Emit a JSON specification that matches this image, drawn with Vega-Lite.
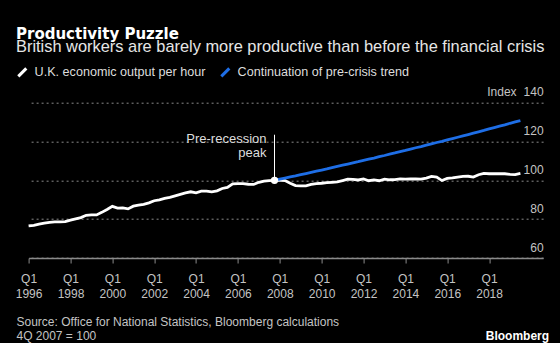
{
  "$schema": "https://vega.github.io/schema/vega-lite/v6.json",
  "autosize": "none",
  "width": 514.5,
  "height": 155.3,
  "padding": {"left": 28.6, "top": 102.7, "right": 16.9, "bottom": 85},
  "background": "#000000",
  "config": {"view": {"stroke": null}, "font": "Liberation Sans"},
  "title": {
    "text": "Productivity Puzzle",
    "anchor": "start",
    "frame": "group",
    "dx": -12.6,
    "font": "DejaVu Sans",
    "fontSize": 15,
    "fontWeight": "bold",
    "color": "#ffffff",
    "offset": -3
  },
  "datasets": {
    "series": [
      {"date": "1996-01-01", "series": "U.K. economic output per hour", "value": 76.5},
      {"date": "1996-04-01", "series": "U.K. economic output per hour", "value": 76.8},
      {"date": "1996-07-01", "series": "U.K. economic output per hour", "value": 77.5},
      {"date": "1996-10-01", "series": "U.K. economic output per hour", "value": 78.0},
      {"date": "1997-01-01", "series": "U.K. economic output per hour", "value": 78.4},
      {"date": "1997-04-01", "series": "U.K. economic output per hour", "value": 78.6},
      {"date": "1997-07-01", "series": "U.K. economic output per hour", "value": 78.6},
      {"date": "1997-10-01", "series": "U.K. economic output per hour", "value": 78.7},
      {"date": "1998-01-01", "series": "U.K. economic output per hour", "value": 79.5},
      {"date": "1998-04-01", "series": "U.K. economic output per hour", "value": 80.2},
      {"date": "1998-07-01", "series": "U.K. economic output per hour", "value": 80.8},
      {"date": "1998-10-01", "series": "U.K. economic output per hour", "value": 82.0},
      {"date": "1999-01-01", "series": "U.K. economic output per hour", "value": 82.2},
      {"date": "1999-04-01", "series": "U.K. economic output per hour", "value": 82.2},
      {"date": "1999-07-01", "series": "U.K. economic output per hour", "value": 83.5},
      {"date": "1999-10-01", "series": "U.K. economic output per hour", "value": 85.0},
      {"date": "2000-01-01", "series": "U.K. economic output per hour", "value": 86.6},
      {"date": "2000-04-01", "series": "U.K. economic output per hour", "value": 85.7},
      {"date": "2000-07-01", "series": "U.K. economic output per hour", "value": 85.8},
      {"date": "2000-10-01", "series": "U.K. economic output per hour", "value": 85.3},
      {"date": "2001-01-01", "series": "U.K. economic output per hour", "value": 86.7},
      {"date": "2001-04-01", "series": "U.K. economic output per hour", "value": 87.2},
      {"date": "2001-07-01", "series": "U.K. economic output per hour", "value": 87.6},
      {"date": "2001-10-01", "series": "U.K. economic output per hour", "value": 88.4},
      {"date": "2002-01-01", "series": "U.K. economic output per hour", "value": 89.5},
      {"date": "2002-04-01", "series": "U.K. economic output per hour", "value": 90.0},
      {"date": "2002-07-01", "series": "U.K. economic output per hour", "value": 90.7},
      {"date": "2002-10-01", "series": "U.K. economic output per hour", "value": 91.2},
      {"date": "2003-01-01", "series": "U.K. economic output per hour", "value": 92.0},
      {"date": "2003-04-01", "series": "U.K. economic output per hour", "value": 92.8},
      {"date": "2003-07-01", "series": "U.K. economic output per hour", "value": 93.5},
      {"date": "2003-10-01", "series": "U.K. economic output per hour", "value": 94.1},
      {"date": "2004-01-01", "series": "U.K. economic output per hour", "value": 93.6},
      {"date": "2004-04-01", "series": "U.K. economic output per hour", "value": 94.4},
      {"date": "2004-07-01", "series": "U.K. economic output per hour", "value": 94.4},
      {"date": "2004-10-01", "series": "U.K. economic output per hour", "value": 94.1},
      {"date": "2005-01-01", "series": "U.K. economic output per hour", "value": 94.6},
      {"date": "2005-04-01", "series": "U.K. economic output per hour", "value": 95.8},
      {"date": "2005-07-01", "series": "U.K. economic output per hour", "value": 96.4},
      {"date": "2005-10-01", "series": "U.K. economic output per hour", "value": 98.2},
      {"date": "2006-01-01", "series": "U.K. economic output per hour", "value": 98.3},
      {"date": "2006-04-01", "series": "U.K. economic output per hour", "value": 98.3},
      {"date": "2006-07-01", "series": "U.K. economic output per hour", "value": 98.0},
      {"date": "2006-10-01", "series": "U.K. economic output per hour", "value": 97.9},
      {"date": "2007-01-01", "series": "U.K. economic output per hour", "value": 99.0},
      {"date": "2007-04-01", "series": "U.K. economic output per hour", "value": 99.6},
      {"date": "2007-07-01", "series": "U.K. economic output per hour", "value": 99.9},
      {"date": "2007-10-01", "series": "U.K. economic output per hour", "value": 100.0},
      {"date": "2008-01-01", "series": "U.K. economic output per hour", "value": 100.1},
      {"date": "2008-04-01", "series": "U.K. economic output per hour", "value": 99.9},
      {"date": "2008-07-01", "series": "U.K. economic output per hour", "value": 98.5},
      {"date": "2008-10-01", "series": "U.K. economic output per hour", "value": 97.3},
      {"date": "2009-01-01", "series": "U.K. economic output per hour", "value": 97.2},
      {"date": "2009-04-01", "series": "U.K. economic output per hour", "value": 97.2},
      {"date": "2009-07-01", "series": "U.K. economic output per hour", "value": 97.9},
      {"date": "2009-10-01", "series": "U.K. economic output per hour", "value": 98.3},
      {"date": "2010-01-01", "series": "U.K. economic output per hour", "value": 98.5},
      {"date": "2010-04-01", "series": "U.K. economic output per hour", "value": 98.8},
      {"date": "2010-07-01", "series": "U.K. economic output per hour", "value": 99.0},
      {"date": "2010-10-01", "series": "U.K. economic output per hour", "value": 99.2},
      {"date": "2011-01-01", "series": "U.K. economic output per hour", "value": 99.9},
      {"date": "2011-04-01", "series": "U.K. economic output per hour", "value": 100.6},
      {"date": "2011-07-01", "series": "U.K. economic output per hour", "value": 100.5},
      {"date": "2011-10-01", "series": "U.K. economic output per hour", "value": 100.2},
      {"date": "2012-01-01", "series": "U.K. economic output per hour", "value": 100.7},
      {"date": "2012-04-01", "series": "U.K. economic output per hour", "value": 99.8},
      {"date": "2012-07-01", "series": "U.K. economic output per hour", "value": 100.2},
      {"date": "2012-10-01", "series": "U.K. economic output per hour", "value": 99.8},
      {"date": "2013-01-01", "series": "U.K. economic output per hour", "value": 100.6},
      {"date": "2013-04-01", "series": "U.K. economic output per hour", "value": 100.3},
      {"date": "2013-07-01", "series": "U.K. economic output per hour", "value": 100.4},
      {"date": "2013-10-01", "series": "U.K. economic output per hour", "value": 100.8},
      {"date": "2014-01-01", "series": "U.K. economic output per hour", "value": 100.6},
      {"date": "2014-04-01", "series": "U.K. economic output per hour", "value": 100.7},
      {"date": "2014-07-01", "series": "U.K. economic output per hour", "value": 100.7},
      {"date": "2014-10-01", "series": "U.K. economic output per hour", "value": 100.6},
      {"date": "2015-01-01", "series": "U.K. economic output per hour", "value": 101.2},
      {"date": "2015-04-01", "series": "U.K. economic output per hour", "value": 102.0},
      {"date": "2015-07-01", "series": "U.K. economic output per hour", "value": 101.7},
      {"date": "2015-10-01", "series": "U.K. economic output per hour", "value": 99.9},
      {"date": "2016-01-01", "series": "U.K. economic output per hour", "value": 101.0},
      {"date": "2016-04-01", "series": "U.K. economic output per hour", "value": 101.3},
      {"date": "2016-07-01", "series": "U.K. economic output per hour", "value": 101.7},
      {"date": "2016-10-01", "series": "U.K. economic output per hour", "value": 102.0},
      {"date": "2017-01-01", "series": "U.K. economic output per hour", "value": 102.1},
      {"date": "2017-04-01", "series": "U.K. economic output per hour", "value": 101.7},
      {"date": "2017-07-01", "series": "U.K. economic output per hour", "value": 102.9},
      {"date": "2017-10-01", "series": "U.K. economic output per hour", "value": 103.6},
      {"date": "2018-01-01", "series": "U.K. economic output per hour", "value": 103.4},
      {"date": "2018-04-01", "series": "U.K. economic output per hour", "value": 103.4},
      {"date": "2018-07-01", "series": "U.K. economic output per hour", "value": 103.4},
      {"date": "2018-10-01", "series": "U.K. economic output per hour", "value": 103.4},
      {"date": "2019-01-01", "series": "U.K. economic output per hour", "value": 103.1},
      {"date": "2019-04-01", "series": "U.K. economic output per hour", "value": 103.0},
      {"date": "2019-07-01", "series": "U.K. economic output per hour", "value": 103.6},
      {"date": "2007-10-01", "series": "Continuation of pre-crisis trend", "value": 100.0},
      {"date": "2008-01-01", "series": "Continuation of pre-crisis trend", "value": 100.6},
      {"date": "2008-04-01", "series": "Continuation of pre-crisis trend", "value": 101.2},
      {"date": "2008-07-01", "series": "Continuation of pre-crisis trend", "value": 101.8},
      {"date": "2008-10-01", "series": "Continuation of pre-crisis trend", "value": 102.3},
      {"date": "2009-01-01", "series": "Continuation of pre-crisis trend", "value": 102.9},
      {"date": "2009-04-01", "series": "Continuation of pre-crisis trend", "value": 103.5},
      {"date": "2009-07-01", "series": "Continuation of pre-crisis trend", "value": 104.1},
      {"date": "2009-10-01", "series": "Continuation of pre-crisis trend", "value": 104.7},
      {"date": "2010-01-01", "series": "Continuation of pre-crisis trend", "value": 105.3},
      {"date": "2010-04-01", "series": "Continuation of pre-crisis trend", "value": 105.9},
      {"date": "2010-07-01", "series": "Continuation of pre-crisis trend", "value": 106.6},
      {"date": "2010-10-01", "series": "Continuation of pre-crisis trend", "value": 107.2},
      {"date": "2011-01-01", "series": "Continuation of pre-crisis trend", "value": 107.8},
      {"date": "2011-04-01", "series": "Continuation of pre-crisis trend", "value": 108.4},
      {"date": "2011-07-01", "series": "Continuation of pre-crisis trend", "value": 109.0},
      {"date": "2011-10-01", "series": "Continuation of pre-crisis trend", "value": 109.6},
      {"date": "2012-01-01", "series": "Continuation of pre-crisis trend", "value": 110.3},
      {"date": "2012-04-01", "series": "Continuation of pre-crisis trend", "value": 110.9},
      {"date": "2012-07-01", "series": "Continuation of pre-crisis trend", "value": 111.5},
      {"date": "2012-10-01", "series": "Continuation of pre-crisis trend", "value": 112.2},
      {"date": "2013-01-01", "series": "Continuation of pre-crisis trend", "value": 112.8},
      {"date": "2013-04-01", "series": "Continuation of pre-crisis trend", "value": 113.5},
      {"date": "2013-07-01", "series": "Continuation of pre-crisis trend", "value": 114.1},
      {"date": "2013-10-01", "series": "Continuation of pre-crisis trend", "value": 114.8},
      {"date": "2014-01-01", "series": "Continuation of pre-crisis trend", "value": 115.4},
      {"date": "2014-04-01", "series": "Continuation of pre-crisis trend", "value": 116.1},
      {"date": "2014-07-01", "series": "Continuation of pre-crisis trend", "value": 116.8},
      {"date": "2014-10-01", "series": "Continuation of pre-crisis trend", "value": 117.4},
      {"date": "2015-01-01", "series": "Continuation of pre-crisis trend", "value": 118.1},
      {"date": "2015-04-01", "series": "Continuation of pre-crisis trend", "value": 118.8},
      {"date": "2015-07-01", "series": "Continuation of pre-crisis trend", "value": 119.5},
      {"date": "2015-10-01", "series": "Continuation of pre-crisis trend", "value": 120.1},
      {"date": "2016-01-01", "series": "Continuation of pre-crisis trend", "value": 120.8},
      {"date": "2016-04-01", "series": "Continuation of pre-crisis trend", "value": 121.5},
      {"date": "2016-07-01", "series": "Continuation of pre-crisis trend", "value": 122.2},
      {"date": "2016-10-01", "series": "Continuation of pre-crisis trend", "value": 122.9},
      {"date": "2017-01-01", "series": "Continuation of pre-crisis trend", "value": 123.6},
      {"date": "2017-04-01", "series": "Continuation of pre-crisis trend", "value": 124.3},
      {"date": "2017-07-01", "series": "Continuation of pre-crisis trend", "value": 125.0},
      {"date": "2017-10-01", "series": "Continuation of pre-crisis trend", "value": 125.7},
      {"date": "2018-01-01", "series": "Continuation of pre-crisis trend", "value": 126.5},
      {"date": "2018-04-01", "series": "Continuation of pre-crisis trend", "value": 127.2},
      {"date": "2018-07-01", "series": "Continuation of pre-crisis trend", "value": 127.9},
      {"date": "2018-10-01", "series": "Continuation of pre-crisis trend", "value": 128.6},
      {"date": "2019-01-01", "series": "Continuation of pre-crisis trend", "value": 129.4},
      {"date": "2019-04-01", "series": "Continuation of pre-crisis trend", "value": 130.1},
      {"date": "2019-07-01", "series": "Continuation of pre-crisis trend", "value": 130.8}
    ],
    "peak": [{"date": "2007-10-01", "value": 100, "top": 123.5}],
    "note": [{"date": "2007-10-01", "value": 124.2}],
    "brand": [{"date": "2020-07-31", "value": 60}]
  },
  "encoding": {
    "x": {
      "field": "date",
      "type": "temporal",
      "title": ["Source: Office for National Statistics, Bloomberg calculations", "4Q 2007 = 100"],
      "scale": {"domain": ["1996-01-01", "2020-07-31"]},
      "axis": {
        "values": ["1996-01-01", "1998-01-01", "2000-01-01", "2002-01-01", "2004-01-01", "2006-01-01", "2008-01-01", "2010-01-01", "2012-01-01", "2014-01-01", "2016-01-01", "2018-01-01"],
        "labelExpr": "['Q1', timeFormat(datum.value, '%Y')]",
        "labelFlush": false,
        "labelOverlap": false,
        "labelFont": "Liberation Sans",
        "labelFontSize": 12,
        "labelColor": "#c4c4c4",
        "labelLineHeight": 15,
        "labelPadding": 10,
        "grid": false,
        "domainColor": "#8a8a8a",
        "domainWidth": 1.5,
        "tickColor": "#8a8a8a",
        "tickSize": 5,
        "titleAnchor": "start",
        "titleAlign": "left",
        "titleBaseline": "alphabetic",
        "titleX": -12.6,
        "titleY": 67,
        "titleFont": "Liberation Sans",
        "titleFontSize": 12,
        "titleFontWeight": "normal",
        "titleColor": "#c4c4c4",
        "titleLineHeight": 14
      }
    },
    "y": {
      "field": "value",
      "type": "quantitative",
      "title": "Index",
      "scale": {"domain": [60, 140], "nice": false, "zero": false},
      "axis": {
        "orient": "right",
        "values": [60, 80, 100, 120, 140],
        "grid": true,
        "gridColor": "#8a8a8a",
        "gridDash": [2, 3],
        "gridWidth": 1,
        "domain": false,
        "ticks": false,
        "tickSize": 0,
        "labelAlign": "right",
        "labelBaseline": "alphabetic",
        "labelPadding": 0,
        "labelOffset": -7,
        "labelFont": "Liberation Sans",
        "labelFontSize": 12,
        "labelColor": "#c4c4c4",
        "titleAngle": 0,
        "titleAlign": "right",
        "titleBaseline": "alphabetic",
        "titleX": -27,
        "titleY": -7,
        "titleFont": "Liberation Sans",
        "titleFontSize": 12,
        "titleFontWeight": "normal",
        "titleColor": "#c4c4c4"
      }
    }
  },
  "layer": [
    {
      "data": {"name": "series"},
      "mark": {"type": "line", "strokeWidth": 2.8},
      "encoding": {
        "color": {
          "field": "series",
          "type": "nominal",
          "scale": {"domain": ["U.K. economic output per hour", "Continuation of pre-crisis trend"], "range": ["#ffffff", "#1e6ee6"]},
          "legend": {
            "orient": "none",
            "legendX": -12.6,
            "legendY": -63.7,
            "direction": "horizontal",
            "title": "British workers are barely more productive than before the financial crisis",
            "titleFont": "Liberation Sans",
            "titleFontSize": 16.4,
            "titleFontWeight": "normal",
            "titleColor": "#e6e6e6",
            "titleLimit": 600,
            "titleOrient": "top",
            "titleAnchor": "start",
            "titleAlign": "left",
            "titlePadding": 10.3,
            "symbolType": "M-1,1L1,-1",
            "symbolSize": 64,
            "symbolStrokeWidth": 3,
            "labelFont": "Liberation Sans",
            "labelFontSize": 12.6,
            "labelLimit": 400,
            "labelColor": "#dddddd",
            "columnPadding": 9,
            "labelOffset": 6,
            "padding": 0
          }
        }
      }
    },
    {
      "data": {"name": "peak"},
      "mark": {"type": "rule", "color": "#ffffff", "strokeWidth": 1},
      "encoding": {"y2": {"field": "top"}}
    },
    {
      "data": {"name": "peak"},
      "mark": {"type": "point", "filled": true, "color": "#ffffff", "size": 55, "opacity": 1}
    },
    {
      "data": {"name": "note"},
      "mark": {"type": "text", "text": ["Pre-recession", "peak"], "align": "right", "baseline": "top", "dx": -8, "font": "Liberation Sans", "fontSize": 13, "lineHeight": 14, "color": "#dddddd"}
    },
    {
      "data": {"name": "brand"},
      "mark": {"type": "text", "text": "Bloomberg", "align": "right", "baseline": "alphabetic", "dx": 6, "dy": 82, "font": "Liberation Sans", "fontSize": 12, "fontWeight": "bold", "color": "#ffffff"}
    }
  ]
}
